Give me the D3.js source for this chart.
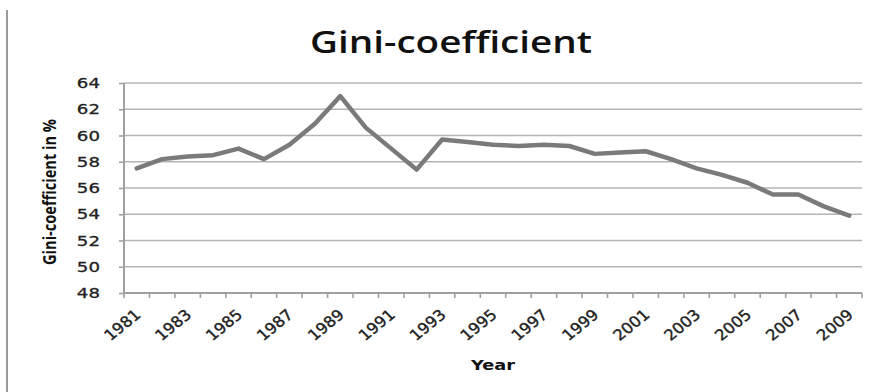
<!DOCTYPE html>
<html>
<head>
<meta charset="utf-8">
<script src="https://cdn.jsdelivr.net/npm/d3@7"></script>
<style>
  html, body { margin: 0; padding: 0; background: #fff; }
  svg { display: block; }
</style>
</head>
<body>
<svg id="chart" width="888" height="392"></svg>
<script>
// Gini-coefficient per year, in percent
const years = ["1981","1982","1983","1984","1985","1986","1987","1988","1989","1990",
               "1991","1992","1993","1994","1995","1996","1997","1998","1999","2000",
               "2001","2002","2003","2004","2005","2006","2007","2008","2009"];
const gini = [57.5, 58.2, 58.4, 58.5, 59.0, 58.2, 59.3, 60.9, 63.0, 60.6,
              59.0, 57.4, 59.7, 59.5, 59.3, 59.2, 59.3, 59.2, 58.6, 58.7,
              58.8, 58.2, 57.5, 57.0, 56.4, 55.5, 55.5, 54.6, 53.9];
const yTicks = [48, 50, 52, 54, 56, 58, 60, 62, 64];
const xLabelYears = years.filter((d, i) => i % 2 === 0);

const titleText = "Gini-coefficient";
const yTitle = "Gini-coefficient in %";
const xTitle = "Year";

const svg = d3.select("#chart");
const plotLeft = 124, plotRight = 862, plotTop = 83, plotBottom = 293;
const stretch = 1.3; // wide glyph proportions

const x = d3.scaleBand().domain(years).range([plotLeft, plotRight]);
const y = d3.scaleLinear().domain([48, 64]).range([plotBottom, plotTop]);

const gridColor = "#b4b4b4";
const axisColor = "#a0a0a0";

// page margin rule
svg.append("line")
  .attr("x1", 7).attr("x2", 7).attr("y1", 10).attr("y2", 392)
  .attr("stroke", "#9a9a9a").attr("stroke-width", 2);

// horizontal gridlines
svg.append("g").selectAll("line").data(yTicks.filter(d => d > 48)).join("line")
  .attr("x1", plotLeft).attr("x2", plotRight)
  .attr("y1", d => y(d)).attr("y2", d => y(d))
  .attr("stroke", gridColor).attr("stroke-width", 1.6);

// y axis
const yAxis = svg.append("g").attr("transform", `translate(${plotLeft},0)`)
  .call(d3.axisLeft(y).tickValues(yTicks).tickSize(5).tickFormat(""));
yAxis.select(".domain").attr("stroke", axisColor).attr("stroke-width", 2).attr("d", `M0,${plotTop}V${plotBottom}`);
yAxis.selectAll(".tick line").attr("stroke", axisColor).attr("stroke-width", 1.6);

svg.append("g").selectAll("text").data(yTicks).join("text")
  .attr("transform", d => `translate(100,${y(d)}) scale(${stretch},1)`)
  .attr("text-anchor", "end").attr("dy", "0.36em")
  .attr("font-family", "DejaVu Sans").attr("font-size", 14)
  .attr("fill", "#222").attr("stroke", "#222").attr("stroke-width", 0.3)
  .text(d => d);

// x axis with ticks on category boundaries
const xb = svg.append("g");
xb.append("line").attr("x1", plotLeft).attr("x2", plotRight).attr("y1", plotBottom).attr("y2", plotBottom)
  .attr("stroke", axisColor).attr("stroke-width", 2);
const bounds = years.map(d => x(d)).concat([plotRight]);
xb.selectAll("line.tk").data(bounds).join("line").attr("class", "tk")
  .attr("x1", d => d).attr("x2", d => d).attr("y1", plotBottom).attr("y2", plotBottom + 5)
  .attr("stroke", axisColor).attr("stroke-width", 1.6);

svg.append("g").selectAll("text").data(xLabelYears).join("text")
  .attr("transform", d => `translate(${x(d) + x.bandwidth() / 2 + 5},${plotBottom + 23}) scale(1.1,1) rotate(-42)`)
  .attr("text-anchor", "end")
  .attr("font-family", "DejaVu Sans").attr("font-size", 15)
  .attr("fill", "#222").attr("stroke", "#222").attr("stroke-width", 0.35)
  .text(d => d);

// series line
const line = d3.line()
  .x((d, i) => x(years[i]) + x.bandwidth() / 2)
  .y(d => y(d));
svg.append("path").datum(gini)
  .attr("d", line)
  .attr("fill", "none").attr("stroke", "#7a7a7a").attr("stroke-width", 4.5)
  .attr("stroke-linejoin", "round").attr("stroke-linecap", "round");

// titles
svg.append("text")
  .attr("x", 310).attr("y", 53)
  .attr("font-family", "Open Sans").attr("font-weight", 600).attr("font-size", 30)
  .attr("textLength", 282).attr("lengthAdjust", "spacingAndGlyphs")
  .attr("fill", "#111")
  .text(titleText);

svg.append("text")
  .attr("transform", `translate(56,192) scale(${stretch},1) rotate(-90)`)
  .attr("text-anchor", "middle")
  .attr("font-family", "Open Sans").attr("font-weight", 700).attr("font-size", 13)
  .attr("textLength", 146).attr("lengthAdjust", "spacingAndGlyphs")
  .attr("fill", "#111")
  .text(yTitle);

svg.append("text")
  .attr("x", (plotLeft + plotRight) / 2).attr("y", 370)
  .attr("text-anchor", "middle")
  .attr("font-family", "DejaVu Sans").attr("font-weight", 700).attr("font-size", 14)
  .attr("textLength", 44).attr("lengthAdjust", "spacingAndGlyphs")
  .attr("fill", "#111")
  .text(xTitle);
</script>
</body>
</html>
